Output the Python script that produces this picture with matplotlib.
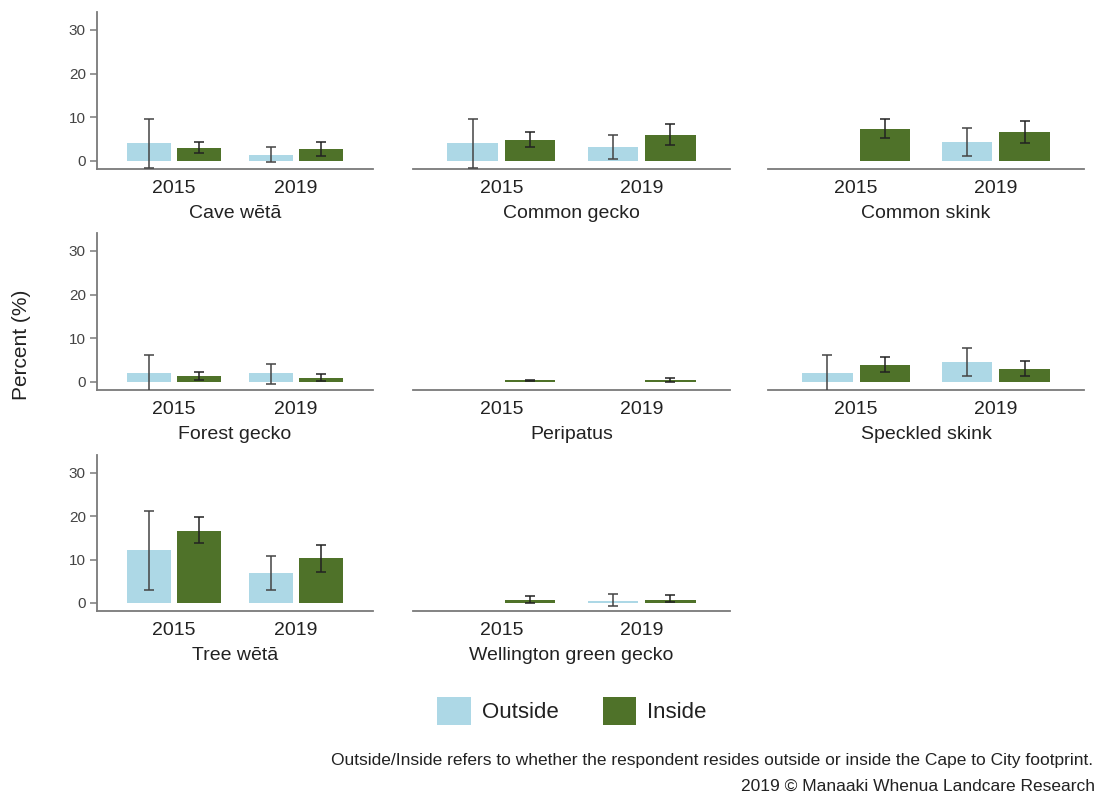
import numpy as np
import matplotlib
matplotlib.use("Agg")
import matplotlib.pyplot as plt
from matplotlib.patches import Patch

plt.rcParams["font.family"] = ["Liberation Sans", "DejaVu Sans"]

nan = np.nan

species = ["Cave wētā", "Common gecko", "Common skink",
           "Forest gecko", "Peripatus", "Speckled skink",
           "Tree wētā", "Wellington green gecko"]
years = ["2015", "2019"]

# percent of respondents, per species, [2015, 2019]
outside_pct = [[4.2, 1.4], [4.0, 3.1], [nan, 4.4], [2.1, 2.1],
               [nan, nan], [2.1, 4.5], [12.1, 6.9], [nan, 0.5]]
outside_lo = [[-1.7, -0.3], [-1.7, 0.4], [nan, 1.2], [-2.5, -0.4],
              [nan, nan], [-2.5, 1.3], [3.0, 3.0], [nan, -0.6]]
outside_hi = [[9.5, 3.1], [9.5, 5.9], [nan, 7.6], [6.1, 4.1],
              [nan, nan], [6.1, 7.7], [21.1, 10.9], [nan, 2.1]]

inside_pct = [[3.0, 2.7], [4.8, 5.9], [7.3, 6.6], [1.3, 0.9],
              [0.35, 0.35], [3.8, 2.9], [16.7, 10.3], [0.7, 0.8]]
inside_lo = [[1.8, 1.2], [3.1, 3.7], [5.2, 4.0], [0.5, 0.15],
             [0.2, 0.0], [2.3, 1.3], [13.8, 7.1], [0.1, 0.3]]
inside_hi = [[4.4, 4.4], [6.6, 8.4], [9.6, 9.2], [2.3, 1.8],
             [0.5, 0.8], [5.6, 4.8], [19.9, 13.4], [1.5, 1.8]]

col_outside = "#add8e6"
col_inside = "#4f7229"
axis_grey = "#7a7a7a"
text_col = "#222222"

fig = plt.figure(figsize=(10.97, 7.93), dpi=100)
W, H = 1097, 793

# panel boxes in pixels: left, right per column; top, bottom per row
col_px = [(97, 373), (413, 730), (768, 1084)]
row_px = [(12, 169), (233, 390), (455, 611)]

x = np.arange(len(years))
bw = 0.36
off = 0.205

for i, name in enumerate(species):
    r, c = divmod(i, 3)
    l, rr = col_px[c]
    t, b = row_px[r]
    ax = fig.add_axes([l / W, 1 - b / H, (rr - l) / W, (b - t) / H])

    o = np.array(outside_pct[i], float)
    n = np.array(inside_pct[i], float)
    ax.bar(x - off, o, bw, color=col_outside, zorder=2)
    ax.bar(x + off, n, bw, color=col_inside, zorder=2)

    olo, ohi = np.array(outside_lo[i], float), np.array(outside_hi[i], float)
    nlo, nhi = np.array(inside_lo[i], float), np.array(inside_hi[i], float)
    ax.errorbar(x - off, o, yerr=[o - olo, ohi - o], fmt="none",
                ecolor="#444444", elinewidth=1.1, capsize=3.5,
                capthick=1.1, zorder=3)
    ax.errorbar(x + off, n, yerr=[n - nlo, nhi - n], fmt="none",
                ecolor="#222222", elinewidth=1.1, capsize=3.5,
                capthick=1.1, zorder=3)

    ax.set_xlim(-0.63, 1.63)
    ax.set_ylim(-1.85, 34.1)
    ax.set_xticks(x)
    ax.set_xticklabels(years, fontsize=14, color=text_col)
    ax.tick_params(axis="x", length=0, pad=8)
    ax.set_xlabel(name, fontsize=14, color=text_col, labelpad=6)

    for s in ["top", "right"]:
        ax.spines[s].set_visible(False)
    ax.spines["bottom"].set_color(axis_grey)
    ax.spines["bottom"].set_linewidth(1.3)
    if c == 0:
        ax.spines["left"].set_color(axis_grey)
        ax.spines["left"].set_linewidth(1.3)
        ax.set_yticks([0, 10, 20, 30])
        ax.tick_params(axis="y", length=5, width=1.1, color=axis_grey,
                       labelsize=11, labelcolor="#444444", pad=3)
    else:
        ax.spines["left"].set_visible(False)
        ax.set_yticks([])

fig.text(22 / W, 1 - 345 / H, "Percent (%)", rotation=90, fontsize=15,
         color=text_col, ha="center", va="center")

handles = [Patch(facecolor=col_outside, label="Outside"),
           Patch(facecolor=col_inside, label="Inside")]
fig.legend(handles=handles, loc="center", bbox_to_anchor=(572 / W, 1 - 711 / H),
           ncol=2, frameon=False, fontsize=16, handlelength=1.5,
           handleheight=1.5, handletextpad=0.5, columnspacing=2.0,
           labelcolor=text_col)

fig.text(1093 / W, 1 - 760 / H,
         "Outside/Inside refers to whether the respondent resides outside or "
         "inside the Cape to City footprint.",
         fontsize=12.5, color=text_col, ha="right", va="center")
fig.text(1095 / W, 1 - 786 / H, "2019 © Manaaki Whenua Landcare Research",
         fontsize=12.5, color=text_col, ha="right", va="center")

fig.savefig("out.png", dpi=100)
